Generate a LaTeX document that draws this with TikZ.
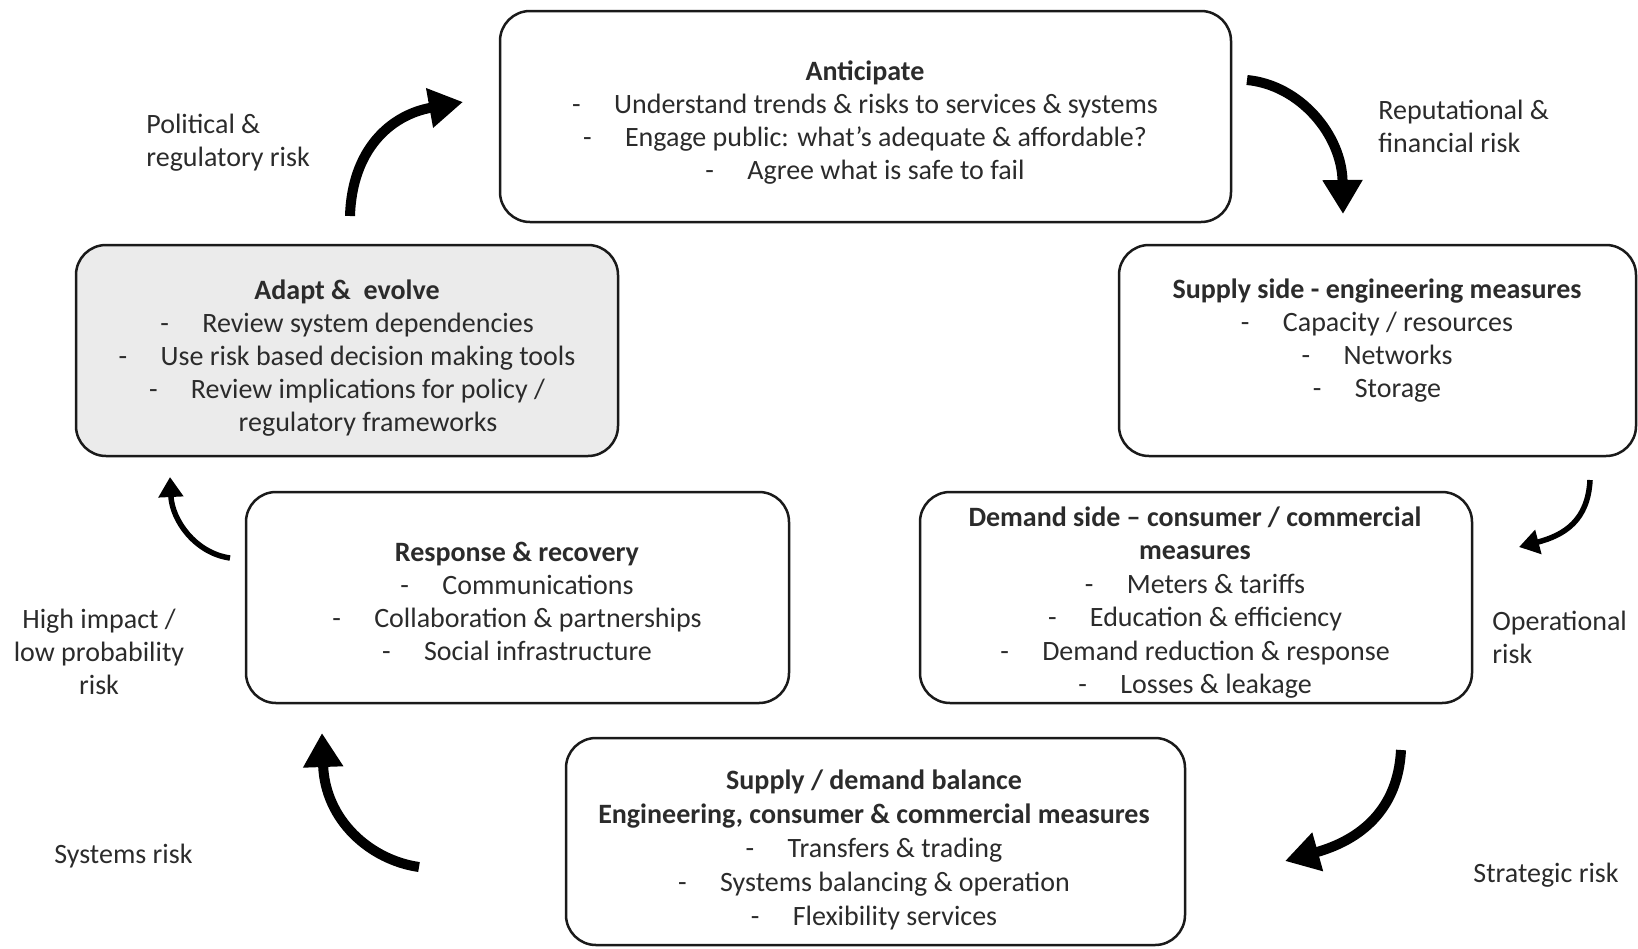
\documentclass[tikz,border=0pt]{standalone}
\usepackage{fontspec}
\setmainfont{Carlito}
\usetikzlibrary{arrows.meta}
\definecolor{txtc}{HTML}{2B2B2B}
\definecolor{fillg}{HTML}{EBEBEB}
\definecolor{edgec}{HTML}{1A1A1A}
\newcommand\bl[1]{\makebox[21pt][l]{-}#1}
\newcommand\st{\rule{0pt}{12pt}}
\begin{document}
\begin{tikzpicture}[x=0.5pt,y=-0.5pt,
  box/.style={draw=edgec, line width=1.25pt, rounded corners=15pt, inner sep=0pt, rectangle},
  txt/.style={inner sep=0pt, anchor=north, align=center, text=txtc, font=\fontsize{14}{16.5}\selectfont},
  lbl/.style={inner sep=0pt, anchor=north west, align=left, text=txtc, font=\fontsize{14}{16.5}\selectfont},
  bigarr/.style={line width=5pt, -{Triangle[length=17pt,width=19pt]}},
  smallarr/.style={line width=2.75pt, -{Triangle[length=10pt,width=12pt]}}]
\useasboundingbox (0,0) rectangle (1638,948);
% boxes
\node[box, minimum width=365.5pt, minimum height=105.5pt] (ant) at (865.5,116.5) {};
\node[box, minimum width=258.5pt, minimum height=105.5pt] (sup) at (1377.5,350.5) {};
\node[box, fill=fillg, minimum width=271pt, minimum height=105.5pt] (ada) at (347,350.5) {};
\node[box, minimum width=271.5pt, minimum height=105.5pt] (res) at (517.5,597.5) {};
\node[box, minimum width=276pt, minimum height=105.5pt] (dem) at (1196,597.5) {};
\node[box, minimum width=309.5pt, minimum height=103.5pt] (bal) at (875.5,841.5) {};
% box texts
\node[txt] (antT) at (865,56) {\st\textbf{Anticipate}\\ \bl{Understand trends \& risks to services \& systems}\\ \bl{Engage public: what’s adequate \& affordable?}\\ \bl{Agree what is safe to fail}};
\node[txt] (supT) at (1377,274) {\st\textbf{Supply side - engineering measures}\\ \bl{Capacity / resources}\\ \bl{Networks}\\ \bl{Storage}};
\node[txt] (adaT) at (347,275) {\st\textbf{Adapt \& \ evolve}\\ \bl{Review system dependencies}\\ \bl{Use risk based decision making tools}\\ \bl{Review implications for policy /}\\ \hspace*{21pt}regulatory frameworks};
\node[txt] (resT) at (517,537) {\st\textbf{Response \& recovery}\\ \bl{Communications}\\ \bl{Collaboration \& partnerships}\\ \bl{Social infrastructure}};
\node[txt, font=\fontsize{14}{16.7}\selectfont] (demT) at (1195,502) {\st\textbf{Demand side – consumer / commercial}\\ \textbf{measures}\\ \bl{Meters \& tariffs}\\ \bl{Education \& efficiency}\\ \bl{Demand reduction \& response}\\ \bl{Losses \& leakage}};
\node[txt, font=\fontsize{14}{17}\selectfont] (balT) at (874,765) {\st\textbf{Supply / demand balance}\\ \textbf{Engineering, consumer \& commercial measures}\\ \bl{Transfers \& trading}\\ \bl{Systems balancing \& operation}\\ \bl{Flexibility services}};
% risk labels
\node[lbl] (pol) at (146,109) {\st Political \&\\ regulatory risk};
\node[lbl] (rep) at (1378,95) {\st Reputational \&\\ financial risk};
\node[lbl] (ope) at (1492,606) {\st Operational\\ risk};
\node[lbl] (str) at (1473,858) {\st Strategic risk};
\node[lbl] (sys) at (54,839) {\st Systems risk};
\node[txt] (hig) at (99,604) {\st High impact /\\ low probability\\ risk};
% arrow end points
\coordinate (a1s) at (350,216); \coordinate (a1e) at (463,102);
\coordinate (a2s) at (1247,80); \coordinate (a2e) at (1343,214);
\coordinate (a3s) at (1590,480); \coordinate (a3e) at (1519,547);
\coordinate (a4s) at (1401,750); \coordinate (a4e) at (1285,861);
\coordinate (a5s) at (419,867); \coordinate (a5e) at (322,733);
\coordinate (a6s) at (230,558); \coordinate (a6e) at (170,477);
% arrows
\draw[bigarr] (a1s) .. controls (352,150) and (390,115) .. (a1e);
\draw[bigarr] (a2s) .. controls (1300,85) and (1342,135) .. (a2e);
\draw[smallarr] (a3s) .. controls (1588,520) and (1565,535) .. (a3e);
\draw[bigarr] (a4s) .. controls (1398,810) and (1360,840) .. (a4e);
\draw[bigarr] (a5s) .. controls (370,860) and (325,820) .. (a5e);
\draw[smallarr] (a6s) .. controls (195,553) and (172,520) .. (a6e);
\end{tikzpicture}
\end{document}
